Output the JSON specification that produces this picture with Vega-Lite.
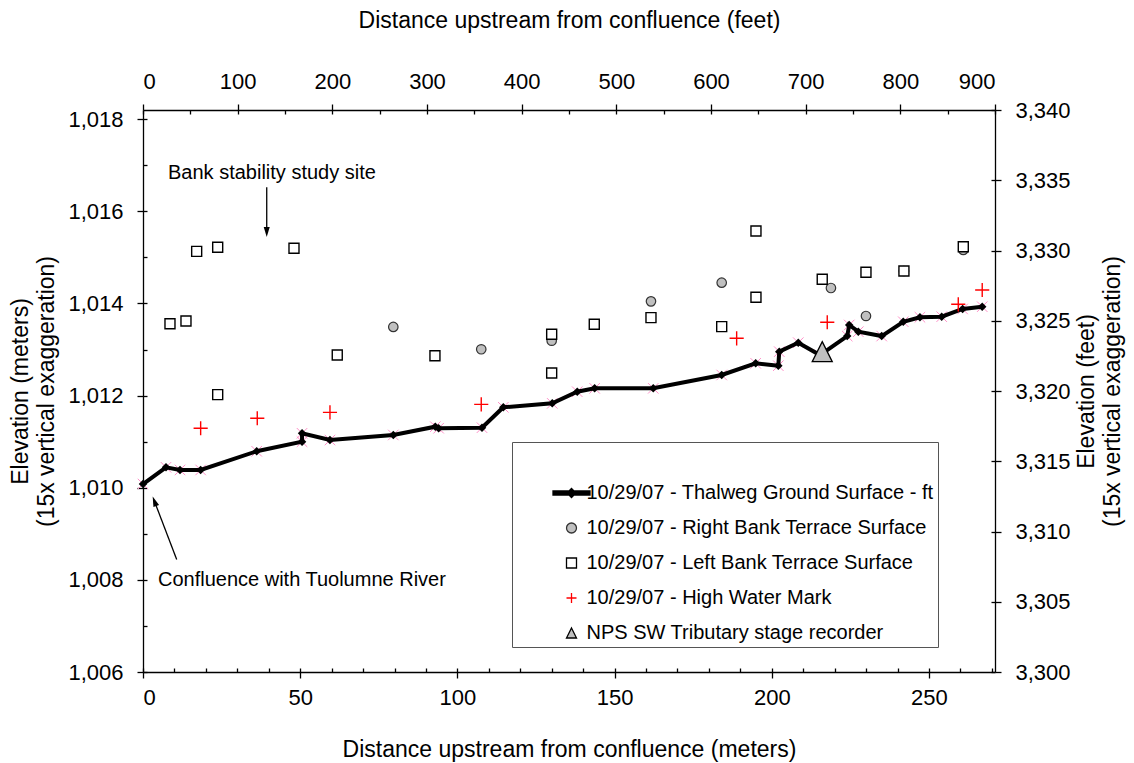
{
  "$schema": "https://vega.github.io/schema/vega-lite/v6.json",
  "width": 852,
  "height": 562,
  "autosize": {"type": "none"},
  "padding": {"left": 143, "top": 110, "right": 139, "bottom": 91},
  "background": "white",
  "config": {
    "font": "Liberation Sans",
    "view": {"stroke": null},
    "axis": {
      "grid": false,
      "labelFont": "Liberation Sans",
      "titleFont": "Liberation Sans",
      "labelFontSize": 22,
      "titleFontSize": 23,
      "titleFontWeight": "normal",
      "labelColor": "black",
      "titleColor": "black",
      "domainColor": "black",
      "tickColor": "black",
      "domainWidth": 1.3,
      "tickWidth": 1.3
    },
    "legend": {
      "labelFont": "Liberation Sans",
      "labelFontSize": 20,
      "labelColor": "black",
      "labelLimit": 0,
      "symbolSize": 100,
      "symbolStrokeWidth": 1.3,
      "symbolOpacity": 1,
      "rowPadding": 15,
      "labelOffset": 5,
      "symbolOffset": 45.5,
      "padding": 4,
      "strokeColor": "#555555",
      "fillColor": "white",
      "titleFont": "Liberation Sans",
      "titleFontSize": 20,
      "titleFontWeight": "normal",
      "titleLimit": 0,
      "titlePadding": 17
    }
  },
  "datasets": {
    "thalweg": [
      {"i": 1, "dist_ft": 0, "elev_ft": 3313.38},
      {"i": 2, "dist_ft": 24.3, "elev_ft": 3314.57},
      {"i": 3, "dist_ft": 39.1, "elev_ft": 3314.38},
      {"i": 4, "dist_ft": 60.9, "elev_ft": 3314.38},
      {"i": 5, "dist_ft": 120.1, "elev_ft": 3315.71},
      {"i": 6, "dist_ft": 168.0, "elev_ft": 3316.39},
      {"i": 7, "dist_ft": 168.0, "elev_ft": 3316.99},
      {"i": 8, "dist_ft": 197.5, "elev_ft": 3316.51},
      {"i": 9, "dist_ft": 264.4, "elev_ft": 3316.87},
      {"i": 10, "dist_ft": 308.8, "elev_ft": 3317.46},
      {"i": 11, "dist_ft": 312.3, "elev_ft": 3317.35},
      {"i": 12, "dist_ft": 358.1, "elev_ft": 3317.39},
      {"i": 13, "dist_ft": 380.6, "elev_ft": 3318.84},
      {"i": 14, "dist_ft": 432.3, "elev_ft": 3319.12},
      {"i": 15, "dist_ft": 458.7, "elev_ft": 3319.95},
      {"i": 16, "dist_ft": 477.1, "elev_ft": 3320.19},
      {"i": 17, "dist_ft": 539.0, "elev_ft": 3320.19},
      {"i": 18, "dist_ft": 611.3, "elev_ft": 3321.14},
      {"i": 19, "dist_ft": 647.2, "elev_ft": 3321.97},
      {"i": 20, "dist_ft": 671.1, "elev_ft": 3321.80},
      {"i": 21, "dist_ft": 672.1, "elev_ft": 3322.80},
      {"i": 22, "dist_ft": 692.2, "elev_ft": 3323.44},
      {"i": 23, "dist_ft": 715.1, "elev_ft": 3322.56},
      {"i": 24, "dist_ft": 743.9, "elev_ft": 3323.91},
      {"i": 25, "dist_ft": 746.0, "elev_ft": 3324.70},
      {"i": 26, "dist_ft": 755.6, "elev_ft": 3324.22},
      {"i": 27, "dist_ft": 780.3, "elev_ft": 3323.91},
      {"i": 28, "dist_ft": 803.1, "elev_ft": 3324.93},
      {"i": 29, "dist_ft": 820.7, "elev_ft": 3325.25},
      {"i": 30, "dist_ft": 843.7, "elev_ft": 3325.29},
      {"i": 31, "dist_ft": 865.8, "elev_ft": 3325.84},
      {"i": 32, "dist_ft": 886.5, "elev_ft": 3326.00}
    ],
    "points": [
      {"series": "10/29/07 - Right Bank Terrace Surface", "dist_ft": 264.4, "elev_ft": 3324.56},
      {"series": "10/29/07 - Right Bank Terrace Surface", "dist_ft": 357.3, "elev_ft": 3322.97},
      {"series": "10/29/07 - Right Bank Terrace Surface", "dist_ft": 431.7, "elev_ft": 3323.58},
      {"series": "10/29/07 - Right Bank Terrace Surface", "dist_ft": 536.6, "elev_ft": 3326.38},
      {"series": "10/29/07 - Right Bank Terrace Surface", "dist_ft": 611.3, "elev_ft": 3327.71},
      {"series": "10/29/07 - Right Bank Terrace Surface", "dist_ft": 726.7, "elev_ft": 3327.33},
      {"series": "10/29/07 - Right Bank Terrace Surface", "dist_ft": 763.7, "elev_ft": 3325.34},
      {"series": "10/29/07 - Right Bank Terrace Surface", "dist_ft": 803.8, "elev_ft": 3328.54},
      {"series": "10/29/07 - Right Bank Terrace Surface", "dist_ft": 866.5, "elev_ft": 3330.04},
      {"series": "10/29/07 - Left Bank Terrace Surface", "dist_ft": 28.5, "elev_ft": 3324.79},
      {"series": "10/29/07 - Left Bank Terrace Surface", "dist_ft": 45.4, "elev_ft": 3324.98},
      {"series": "10/29/07 - Left Bank Terrace Surface", "dist_ft": 56.7, "elev_ft": 3329.94},
      {"series": "10/29/07 - Left Bank Terrace Surface", "dist_ft": 78.9, "elev_ft": 3330.23},
      {"series": "10/29/07 - Left Bank Terrace Surface", "dist_ft": 78.9, "elev_ft": 3319.74},
      {"series": "10/29/07 - Left Bank Terrace Surface", "dist_ft": 159.5, "elev_ft": 3330.16},
      {"series": "10/29/07 - Left Bank Terrace Surface", "dist_ft": 205.2, "elev_ft": 3322.56},
      {"series": "10/29/07 - Left Bank Terrace Surface", "dist_ft": 308.4, "elev_ft": 3322.51},
      {"series": "10/29/07 - Left Bank Terrace Surface", "dist_ft": 431.7, "elev_ft": 3324.04},
      {"series": "10/29/07 - Left Bank Terrace Surface", "dist_ft": 431.7, "elev_ft": 3321.28},
      {"series": "10/29/07 - Left Bank Terrace Surface", "dist_ft": 476.7, "elev_ft": 3324.75},
      {"series": "10/29/07 - Left Bank Terrace Surface", "dist_ft": 536.6, "elev_ft": 3325.22},
      {"series": "10/29/07 - Left Bank Terrace Surface", "dist_ft": 611.3, "elev_ft": 3324.58},
      {"series": "10/29/07 - Left Bank Terrace Surface", "dist_ft": 647.5, "elev_ft": 3326.67},
      {"series": "10/29/07 - Left Bank Terrace Surface", "dist_ft": 647.5, "elev_ft": 3331.39},
      {"series": "10/29/07 - Left Bank Terrace Surface", "dist_ft": 717.5, "elev_ft": 3327.95},
      {"series": "10/29/07 - Left Bank Terrace Surface", "dist_ft": 763.7, "elev_ft": 3328.45},
      {"series": "10/29/07 - Left Bank Terrace Surface", "dist_ft": 803.8, "elev_ft": 3328.54},
      {"series": "10/29/07 - Left Bank Terrace Surface", "dist_ft": 866.5, "elev_ft": 3330.27},
      {"series": "10/29/07 - High Water Mark", "dist_ft": 60.9, "elev_ft": 3317.35},
      {"series": "10/29/07 - High Water Mark", "dist_ft": 120.7, "elev_ft": 3318.06},
      {"series": "10/29/07 - High Water Mark", "dist_ft": 197.5, "elev_ft": 3318.48},
      {"series": "10/29/07 - High Water Mark", "dist_ft": 357.3, "elev_ft": 3319.05},
      {"series": "10/29/07 - High Water Mark", "dist_ft": 627.1, "elev_ft": 3323.75},
      {"series": "10/29/07 - High Water Mark", "dist_ft": 722.8, "elev_ft": 3324.89},
      {"series": "10/29/07 - High Water Mark", "dist_ft": 861.2, "elev_ft": 3326.17},
      {"series": "10/29/07 - High Water Mark", "dist_ft": 886.5, "elev_ft": 3327.19},
      {"series": "NPS SW Tributary stage recorder", "dist_ft": 717.5, "elev_ft": 3322.80}
    ],
    "notes": [
      {"label": "Bank stability study site", "dist_ft": 26.4, "elev_ft": 3335.5},
      {"label": "Confluence with Tuolumne River", "dist_ft": 15.8, "elev_ft": 3306.55}
    ],
    "arrows": [
      {"dist_ft": 130.7, "elev_ft": 3334.5, "dist2_ft": 130.7, "elev2_ft": 3331.3},
      {"dist_ft": 35.6, "elev_ft": 3308.0, "dist2_ft": 12.1, "elev2_ft": 3312.15}
    ]
  },
  "layer": [
    {
      "encoding": {
        "x": {"field": "dist_ft", "type": "quantitative", "scale": {"domain": [0, 900], "nice": false, "zero": false},
          "axis": {"orient": "top", "title": "Distance upstream from confluence (feet)", "values": [0, 100, 200, 300, 400, 500, 600, 700, 800, 900], "format": "d", "tickSize": 6, "labelPadding": 11, "titlePadding": 38}},
        "y": {"field": "elev_ft", "type": "quantitative", "scale": {"domain": [3300, 3340], "nice": false, "zero": false},
          "axis": {"orient": "right", "title": ["Elevation (feet)", "(15x vertical exaggeration)"], "values": [3300, 3305, 3310, 3315, 3320, 3325, 3330, 3335, 3340], "format": ",d", "tickSize": 6, "labelPadding": 14, "titleAngle": 270, "titleBaseline": "top", "titleAlign": "center", "titleX": 80, "titleY": 281, "titleLineHeight": 26}}
      },
      "layer": [
        {
          "data": {"name": "thalweg"},
          "mark": {"type": "point", "shape": "M-1,-1L1,1M-1,1L1,-1", "size": 110, "strokeWidth": 1, "color": "#ff8fc8", "opacity": 1},
          "encoding": {}
        },
        {
          "data": {"name": "thalweg"},
          "mark": {"type": "line", "color": "black", "strokeWidth": 4, "point": {"shape": "diamond", "size": 72, "filled": true, "color": "black", "opacity": 1}},
          "encoding": {
            "order": {"field": "i", "type": "quantitative"}
          }
        },
        {
          "data": {"name": "points"},
          "transform": [{"filter": "datum.series === '10/29/07 - Right Bank Terrace Surface'"}],
          "mark": {"type": "point", "strokeWidth": 1.2, "opacity": 1, "size": 90},
          "encoding": {
            "shape": {"field": "series", "type": "nominal",
              "scale": {"domain": ["10/29/07 - Thalweg Ground Surface - ft", "10/29/07 - Right Bank Terrace Surface", "10/29/07 - Left Bank Terrace Surface", "10/29/07 - High Water Mark", "NPS SW Tributary stage recorder"],
                "range": ["M-3.7,-0.4L3.7,-0.4L3.7,0.4L-3.7,0.4Z M0,-0.9L0.9,0L0,0.9L-0.9,0Z", "circle", "square", "M-1,0L1,0M0,-1L0,1", "M0,-1L1,1L-1,1Z"]},
              "legend": {"orient": "none", "legendX": 369, "legendY": 332, "title": "\u2007\u2007\u2007\u2007\u2007\u2007\u2007\u2007\u2007\u2007\u2007\u2007\u2007\u2007\u2007\u2007\u2007\u2007\u2007\u2007\u2007\u2007\u2007\u2007\u2007\u2007\u2007\u2007\u2007\u2007\u2007\u2007\u2007\u2007\u2007\u2007\u2007\u2007\u2007\u2007\u2007"}},
            "fill": {"field": "series", "type": "nominal",
              "scale": {"domain": ["10/29/07 - Thalweg Ground Surface - ft", "10/29/07 - Right Bank Terrace Surface", "10/29/07 - Left Bank Terrace Surface", "10/29/07 - High Water Mark", "NPS SW Tributary stage recorder"],
                "range": ["black", "#c0c0c0", "white", "transparent", "#c0c0c0"]},
              "legend": {"orient": "none", "legendX": 369, "legendY": 332, "title": "\u2007\u2007\u2007\u2007\u2007\u2007\u2007\u2007\u2007\u2007\u2007\u2007\u2007\u2007\u2007\u2007\u2007\u2007\u2007\u2007\u2007\u2007\u2007\u2007\u2007\u2007\u2007\u2007\u2007\u2007\u2007\u2007\u2007\u2007\u2007\u2007\u2007\u2007\u2007\u2007\u2007"}},
            "stroke": {"field": "series", "type": "nominal",
              "scale": {"domain": ["10/29/07 - Thalweg Ground Surface - ft", "10/29/07 - Right Bank Terrace Surface", "10/29/07 - Left Bank Terrace Surface", "10/29/07 - High Water Mark", "NPS SW Tributary stage recorder"],
                "range": ["black", "#333333", "black", "red", "black"]},
              "legend": {"orient": "none", "legendX": 369, "legendY": 332, "title": "\u2007\u2007\u2007\u2007\u2007\u2007\u2007\u2007\u2007\u2007\u2007\u2007\u2007\u2007\u2007\u2007\u2007\u2007\u2007\u2007\u2007\u2007\u2007\u2007\u2007\u2007\u2007\u2007\u2007\u2007\u2007\u2007\u2007\u2007\u2007\u2007\u2007\u2007\u2007\u2007\u2007"}}
          }
        },
        {
          "data": {"name": "points"},
          "transform": [{"filter": "datum.series === '10/29/07 - Left Bank Terrace Surface'"}],
          "mark": {"type": "point", "strokeWidth": 1.4, "opacity": 1, "size": 100},
          "encoding": {
            "shape": {"field": "series", "type": "nominal"},
            "fill": {"field": "series", "type": "nominal"},
            "stroke": {"field": "series", "type": "nominal"}
          }
        },
        {
          "data": {"name": "points"},
          "transform": [{"filter": "datum.series === '10/29/07 - High Water Mark'"}],
          "mark": {"type": "point", "strokeWidth": 1.4, "opacity": 1, "size": 200},
          "encoding": {
            "shape": {"field": "series", "type": "nominal"},
            "fill": {"field": "series", "type": "nominal"},
            "stroke": {"field": "series", "type": "nominal"}
          }
        },
        {
          "data": {"name": "points"},
          "transform": [{"filter": "datum.series === 'NPS SW Tributary stage recorder'"}],
          "mark": {"type": "point", "strokeWidth": 1.3, "opacity": 1, "size": 400},
          "encoding": {
            "shape": {"field": "series", "type": "nominal"},
            "fill": {"field": "series", "type": "nominal"},
            "stroke": {"field": "series", "type": "nominal"}
          }
        },
        {
          "data": {"name": "notes"},
          "mark": {"type": "text", "align": "left", "baseline": "middle", "fontSize": 20, "font": "Liberation Sans", "color": "black"},
          "encoding": {
            "text": {"field": "label", "type": "nominal"}
          }
        },
        {
          "data": {"name": "arrows"},
          "mark": {"type": "rule", "color": "black", "strokeWidth": 1.3},
          "encoding": {
            "x2": {"field": "dist2_ft"},
            "y2": {"field": "elev2_ft"}
          }
        },
        {
          "data": {"values": [{"dist_ft": 130.7, "elev_ft": 3331.32}]},
          "mark": {"type": "point", "shape": "M0,1L-0.6,-1L0.6,-1Z", "size": 100, "filled": true, "color": "black", "opacity": 1},
          "encoding": {}
        },
        {
          "data": {"values": [{"dist_ft": 12.1, "elev_ft": 3312.15}]},
          "mark": {"type": "point", "shape": "M0,-1L0.6,1L-0.6,1Z", "size": 100, "angle": 339, "filled": true, "color": "black", "opacity": 1},
          "encoding": {}
        }
      ]
    },
    {
      "data": {"values": [{"dist_m": 0, "elev_m": 1006}, {"dist_m": 271, "elev_m": 1018.2}]},
      "mark": {"type": "point", "opacity": 0},
      "encoding": {
        "x": {"field": "dist_m", "type": "quantitative", "scale": {"domain": [0, 271], "nice": false, "zero": false},
          "axis": {"orient": "bottom", "title": "Distance upstream from confluence (meters)", "values": [0, 50, 100, 150, 200, 250], "format": "d", "tickSize": 6, "labelPadding": 9, "titlePadding": 30}},
        "y": {"field": "elev_m", "type": "quantitative", "scale": {"domain": [1006, 1018.2], "nice": false, "zero": false},
          "axis": {"orient": "left", "title": ["Elevation (meters)", "(15x vertical exaggeration)"], "values": [1006, 1008, 1010, 1012, 1014, 1016, 1018], "format": ",d", "tickSize": 6, "labelPadding": 14, "titlePadding": 9, "titleLineHeight": 26}}
      }
    },
    {
      "data": {"values": [{"dist_m": 0, "elev_m": 1006}]},
      "mark": {"type": "point", "opacity": 0},
      "encoding": {
        "x": {"field": "dist_m", "type": "quantitative", "scale": {"domain": [0, 271], "nice": false, "zero": false},
          "axis": {"orient": "bottom", "title": null, "labels": false, "domain": false, "tickSize": -4, "values": [0, 10, 20, 30, 40, 50, 60, 70, 80, 90, 100, 110, 120, 130, 140, 150, 160, 170, 180, 190, 200, 210, 220, 230, 240, 250, 260, 270]}},
        "y": {"field": "elev_m", "type": "quantitative", "scale": {"domain": [1006, 1018.2], "nice": false, "zero": false},
          "axis": {"orient": "left", "title": null, "labels": false, "domain": false, "tickSize": -4, "values": [1006, 1007, 1008, 1009, 1010, 1011, 1012, 1013, 1014, 1015, 1016, 1017, 1018]}}
      }
    },
    {
      "data": {"values": [{"dist_ft": 0, "elev_ft": 3300}]},
      "mark": {"type": "point", "opacity": 0},
      "encoding": {
        "x": {"field": "dist_ft", "type": "quantitative", "scale": {"domain": [0, 900], "nice": false, "zero": false},
          "axis": {"orient": "top", "title": null, "labels": false, "domain": false, "tickSize": -4, "values": [0, 50, 100, 150, 200, 250, 300, 350, 400, 450, 500, 550, 600, 650, 700, 750, 800, 850, 900]}},
        "y": {"field": "elev_ft", "type": "quantitative", "scale": {"domain": [3300, 3340], "nice": false, "zero": false},
          "axis": {"orient": "right", "title": null, "labels": false, "domain": false, "tickSize": -4, "values": [3300, 3305, 3310, 3315, 3320, 3325, 3330, 3335, 3340]}}
      }
    }
  ],
  "resolve": {"scale": {"x": "independent", "y": "independent"}}
}
